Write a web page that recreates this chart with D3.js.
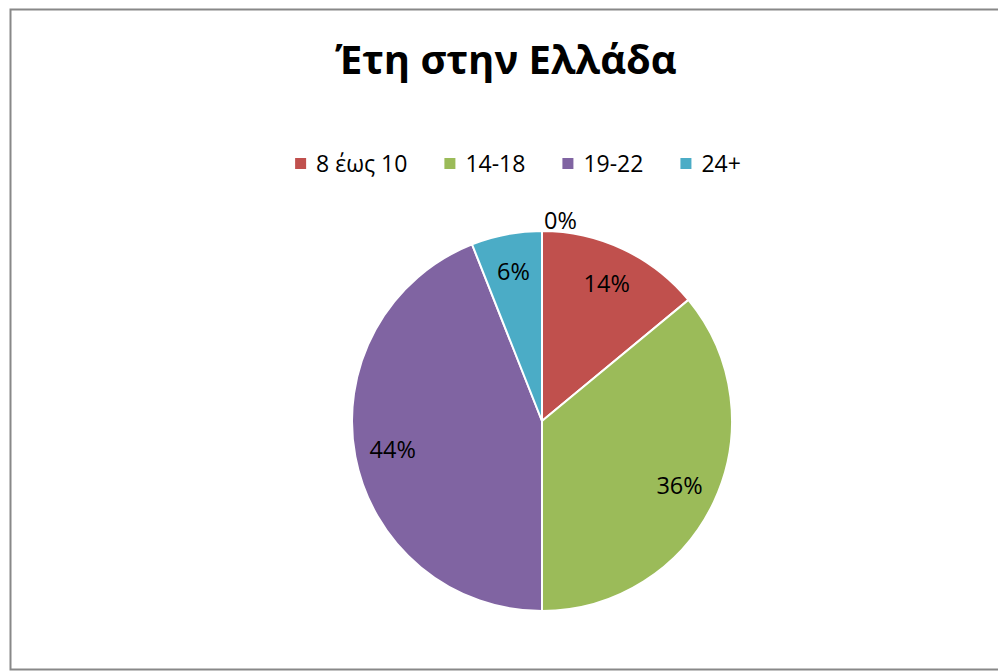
<!DOCTYPE html>
<html>
<head>
<meta charset="utf-8">
<script src="https://cdn.jsdelivr.net/npm/d3@7"></script>
<style>
  body { margin: 0; background: #fff; }
  svg { display: block; }
</style>
</head>
<body>
<script>
// data (counts out of 50)
const categories = ["0-7", "8 έως 10", "14-18", "19-22", "24+"];
const values = [0, 7, 18, 22, 3];
const inLegend = [false, true, true, true, true];
const colors = ["#4F81BD", "#C0504D", "#9BBB59", "#8064A2", "#4BACC6"];
const title = "Έτη στην Ελλάδα";

const width = 998, height = 672;
const cx = 542, cy = 421, R = 190;
const font = "'Open Sans', 'Noto Sans', sans-serif";

const svg = d3.select("body").append("svg")
  .attr("width", width)
  .attr("height", height);

// chart frame
svg.append("rect")
  .attr("x", 10.5).attr("y", 9.5)
  .attr("width", 1000).attr("height", 660)
  .attr("fill", "#fff")
  .attr("stroke", "#888")
  .attr("stroke-width", 2);

// title
svg.append("text")
  .attr("x", 506).attr("y", 74)
  .attr("text-anchor", "middle")
  .attr("font-family", font)
  .attr("font-weight", "bold")
  .attr("font-size", 40)
  .attr("fill", "#000")
  .text(title);

// legend
const legend = svg.append("g");
let lx = 0;
categories.forEach(function(c, i) {
  if (!inLegend[i]) return;
  const item = legend.append("g").attr("transform", `translate(${lx},0)`);
  item.append("rect")
    .attr("x", 0).attr("y", -14)
    .attr("width", 11).attr("height", 11)
    .attr("fill", colors[i]);
  const t = item.append("text")
    .attr("x", 21).attr("y", 0)
    .attr("font-family", font)
    .attr("font-size", 23)
    .attr("fill", "#000")
    .text(c);
  lx += 21 + t.node().getComputedTextLength() + 37;
});
lx -= 37;
legend.attr("transform", `translate(${518 - lx / 2},172)`);

// pie
const pie = d3.pie().sort(null).value(d => d.value);
const arcs = pie(categories.map((c, i) => ({ name: c, value: values[i], color: colors[i] })));
const total = d3.sum(values);

const arc = d3.arc().innerRadius(0).outerRadius(R);
const labelArc = d3.arc().innerRadius(R * 0.8).outerRadius(R * 0.8);
const outArc = d3.arc().innerRadius(R + 10).outerRadius(R + 10);

const g = svg.append("g").attr("transform", `translate(${cx},${cy})`);

g.selectAll("path")
  .data(arcs.filter(d => d.value > 0))
  .enter().append("path")
  .attr("d", arc)
  .attr("fill", d => d.data.color)
  .attr("stroke", "#fff")
  .attr("stroke-width", 2);

const fmt = d3.format(".0%");
g.selectAll("text.lbl")
  .data(arcs)
  .enter().append("text")
  .attr("class", "lbl")
  .attr("font-family", font)
  .attr("font-size", 23.5)
  .attr("fill", "#000")
  .attr("dy", "0.35em")
  .attr("text-anchor", d => d.value > 0 ? "middle" : "start")
  .attr("transform", function(d) {
    const p = d.value > 0 ? labelArc.centroid(d) : outArc.centroid(d);
    return `translate(${d.value > 0 ? p[0] : p[0] + 2},${p[1]})`;
  })
  .text(d => fmt(d.value / total));
</script>
</body>
</html>
